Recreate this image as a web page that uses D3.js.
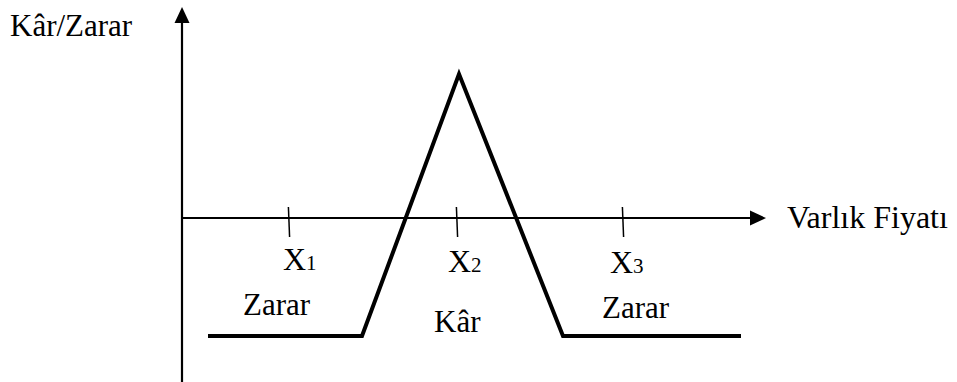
<!DOCTYPE html>
<html>
<head>
<meta charset="utf-8">
<script src="https://cdn.jsdelivr.net/npm/d3@7"></script>
<style>
  body { margin: 0; background: #fff; }
</style>
</head>
<body>
<div id="chart"></div>
<script>
// payoff diagram (abstract units: price on x, profit/loss on y)
const payoffPrice = [2.6, 18.0, 27.7, 38.1, 55.9];
const payoffValue = [-11.8, -11.8, 14.4, -11.8, -11.8];

const tickNames = ['X', 'X', 'X'];
const tickSubs = ['1', '2', '3'];
const tickPrices = [10.7, 27.5, 44.1];

const regionLabels = ['Zarar', 'Kâr', 'Zarar'];
const regionPrices = [6.1, 25.2, 42.0];
const regionValues = [-9.7, -11.4, -10.0];

const yTitle = 'Kâr/Zarar';
const xTitle = 'Varlık Fiyatı';

const width = 957, height = 382;
const serif = "'Liberation Serif', 'Times New Roman', 'DejaVu Serif', serif";

const svg = d3.select('#chart').append('svg')
    .attr('width', width)
    .attr('height', height)
    .attr('font-family', serif);

// 10 px per unit, origin of the axes at (182, 218)
const x = d3.scaleLinear().domain([0, 58.4]).range([182, 766]);
const y = d3.scaleLinear().domain([-16.4, 21.1]).range([382, 7]);

// axes
svg.append('line')
    .attr('x1', x(0)).attr('x2', x(0))
    .attr('y1', y(-16.4)).attr('y2', y(19.8))
    .attr('stroke', '#000').attr('stroke-width', 2.2);

svg.append('line')
    .attr('x1', x(0)).attr('x2', x(57.0))
    .attr('y1', y(0)).attr('y2', y(0))
    .attr('stroke', '#000').attr('stroke-width', 2);

// arrow heads
svg.append('path')
    .attr('d', `M${x(0)},${y(21.1)} L${x(0) - 7.5},${y(19.5)} L${x(0) + 7.5},${y(19.5)} Z`)
    .attr('fill', '#000');

svg.append('path')
    .attr('d', `M${x(58.4)},${y(0)} L${x(56.8)},${y(0) - 7.5} L${x(56.8)},${y(0) + 7.5} Z`)
    .attr('fill', '#000');

// tick marks
svg.selectAll('line.tick')
    .data(tickPrices)
    .join('line')
    .attr('class', 'tick')
    .attr('x1', d => x(d) - 0.6).attr('x2', d => x(d) + 0.6)
    .attr('y1', y(1.1)).attr('y2', y(-1.9))
    .attr('stroke', '#000').attr('stroke-width', 1.5);

// payoff line
const line = d3.line()
    .x((d, i) => x(payoffPrice[i]))
    .y(d => y(d));

svg.append('path')
    .datum(payoffValue)
    .attr('d', line)
    .attr('fill', 'none')
    .attr('stroke', '#000')
    .attr('stroke-width', 4)
    .attr('stroke-linejoin', 'miter');

// tick labels X1, X2, X3
const tl = svg.selectAll('text.tl')
    .data(tickPrices)
    .join('text')
    .attr('class', 'tl')
    .attr('x', (d, i) => x(d) - 6 + (i === 2 ? -7 : (i === 1 ? -3 : 0)))
    .attr('y', (d, i) => y(-5.2) + i * 1.5)
    .attr('font-family', serif)
    .attr('font-size', 32);
tl.append('tspan').text((d, i) => tickNames[i]);
tl.append('tspan').text((d, i) => tickSubs[i]).attr('font-size', 21);

// region labels
svg.selectAll('text.region')
    .data(regionLabels)
    .join('text')
    .attr('class', 'region')
    .attr('x', (d, i) => x(regionPrices[i]))
    .attr('y', (d, i) => y(regionValues[i]))
    .attr('font-family', serif)
    .attr('font-size', 31)
    .text(d => d);

// axis titles
svg.append('text')
    .attr('x', 10).attr('y', 36)
    .attr('font-family', serif)
    .attr('font-size', 31)
    .text(yTitle);

svg.append('text')
    .attr('x', 787).attr('y', 228)
    .attr('font-family', serif)
    .attr('font-size', 32)
    .text(xTitle);
</script>
</body>
</html>
